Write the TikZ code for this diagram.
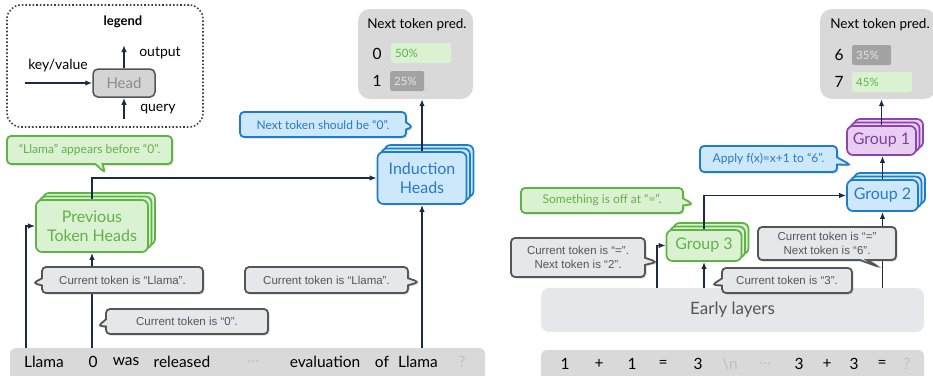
\documentclass[tikz,border=0pt]{standalone}
\usepackage{fontspec}
\setmainfont{Lato}
\newfontfamily\notefont{Liberation Sans}
\usetikzlibrary{shapes.callouts,shadows,arrows.meta}

\definecolor{flowc}{HTML}{1B2A47}
\definecolor{grnfill}{HTML}{DBF2D2}
\definecolor{grnline}{HTML}{5DB344}
\definecolor{grntext}{HTML}{62B04A}
\definecolor{blufill}{HTML}{CDE8FB}
\definecolor{bluline}{HTML}{1E7DCB}
\definecolor{blutext}{HTML}{2A79C2}
\definecolor{purfill}{HTML}{E8CFF2}
\definecolor{purline}{HTML}{8E44AD}
\definecolor{purtext}{HTML}{7E3F9E}
\definecolor{gryfill}{HTML}{E4E8EA}
\definecolor{gryline}{HTML}{555555}
\definecolor{grytext}{HTML}{555555}
\definecolor{predfill}{HTML}{D9D9D9}
\definecolor{barfill}{HTML}{A3A3A3}

\tikzset{
  flow/.style={-{Latex[length=7pt,width=5.5pt]}, draw=flowc, line width=1.7pt},
  headbox/.style={rectangle, rounded corners=6pt, line width=1.7pt, align=center,
    font=\fontsize{16}{19}\selectfont,
    double copy shadow={shadow xshift=3.5pt, shadow yshift=3.5pt}},
  greenhead/.style={headbox, fill=grnfill, draw=grnline, text=grntext},
  bluehead/.style={headbox, fill=blufill, draw=bluline, text=blutext},
  purplehead/.style={headbox, fill=purfill, draw=purline, text=purtext},
  tip/.style={rectangle callout, rounded corners=4pt, line width=1.8pt, inner sep=0pt,
    align=center, drop shadow={shadow xshift=1.5pt, shadow yshift=-1.5pt, opacity=0.3}},
  greytip/.style={tip, fill=gryfill, draw=gryline, text=grytext,
    font=\notefont\fontsize{11.5}{14}\selectfont},
  greentip/.style={tip, fill=grnfill, draw=grnline, text=grntext,
    font=\fontsize{12}{14}\selectfont},
  bluetip/.style={tip, fill=blufill, draw=bluline, text=blutext,
    font=\fontsize{12}{14}\selectfont},
  tokbar/.style={fill=predfill, rounded corners=6pt},
  tok/.style={font=\fontsize{15.5}{18}\selectfont, inner sep=0pt},
  faint/.style={tok, text=black!25},
  predbox/.style={fill=predfill, rounded corners=12pt},
  predtitle/.style={font=\fontsize{13.5}{16}\selectfont, inner sep=0pt},
  predtok/.style={font=\fontsize{15.5}{18}\selectfont, inner sep=0pt},
  goodbar/.style={fill=grnfill, text=grntext, anchor=west, inner xsep=4pt,
    minimum height=20pt, rounded corners=2pt, font=\fontsize{11.5}{14}\selectfont},
  badbar/.style={goodbar, fill=barfill, text=black!10},
  legendbox/.style={draw=black!75, dotted, line width=1.6pt, rounded corners=14pt},
  legendtext/.style={font=\fontsize{14}{17}\selectfont, inner sep=0pt},
  smallhead/.style={rectangle, rounded corners=5pt, line width=1.5pt, draw=gryline,
    fill=black!17, text=black!45, font=\fontsize{15}{18}\selectfont},
  earlybox/.style={fill=gryfill, rounded corners=8pt, text=grytext,
    font=\fontsize{17}{20}\selectfont}
}

\begin{document}
\begin{tikzpicture}[x=1pt, y=-1pt]
    \useasboundingbox (0,0) rectangle (933,375);

    % Legend
    \node[legendbox, minimum width=196pt, minimum height=122pt] (legend) at (105,66) {};
    \node[legendtext, font=\bfseries\fontsize{13}{16}\selectfont] (legendT) at (123,22) {legend};
    \node[smallhead, minimum width=62pt, minimum height=28pt] (head) at (124,83) {Head};
    \node[legendtext] (kvlab) at (58,66) {key/value};
    \node[legendtext] (outlab) at (160,53) {output};
    \node[legendtext] (qlab) at (158,109) {query};
    \coordinate (kvin) at (25,83);
    \coordinate (outend) at (124,45);
    \coordinate (qin) at (124,119);
    \draw[flow] (kvin) -- (head.west);
    \draw[flow] (head.north) -- (outend);
    \draw[flow] (qin) -- (head.south);

    % Left: tokens
    \node[tokbar, minimum width=475pt, minimum height=36pt] (barL) at (247.5,366) {};
    \node[tok] (tL1) at (44,362) {Llama};
    \node[tok] (tL2) at (93,362) {0};
    \node[tok] (tL3) at (126,362) {was};
    \node[tok] (tL4) at (182,362) {released};
    \node[faint] (tL5) at (253,362) {...};
    \node[tok] (tL6) at (325,362) {evaluation};
    \node[tok] (tL7) at (382,362) {of};
    \node[tok] (tL8) at (418,362) {Llama};
    \node[faint] (tL9) at (462,362) {?};

    % Left: heads and prediction
    \node[greenhead, minimum width=112pt, minimum height=52pt] (prev) at (92,226) {Previous\\Token Heads};
    \node[bluehead, minimum width=89pt, minimum height=52pt] (ind) at (422,178) {Induction\\Heads};
    \node[predbox, minimum width=115pt, minimum height=90pt] (predL) at (415.5,54) {};
    \node[predtitle] (predLt) at (417,25) {Next token pred.};
    \node[predtok] (pL0) at (377,54) {0};
    \node[goodbar, text width=52pt] (pL0b) at (391,53) {50\%};
    \node[predtok] (pL1) at (377,81) {1};
    \node[badbar, text width=26pt] (pL1b) at (390,81) {25\%};

    % Left: edges
    \coordinate (inL) at (26,348);
    \draw[flow] (inL) |- (prev.west);
    \draw[flow] (prev.south |- barL.north) -- (prev.south);
    \draw[flow] (prev.north) |- (ind.west);
    \draw[flow] (ind.south |- barL.north) -- (ind.south);
    \draw[flow] (ind.north) -- (predL.south -| ind.north);

    % Left: notes
    \coordinate (tipA) at (105,173);
    \coordinate (tipB) at (413,127);
    \coordinate (tipC) at (33,283);
    \coordinate (tipD) at (419,282);
    \coordinate (tipE) at (98,326);
    \node[greentip, minimum width=165pt, minimum height=28pt, callout absolute pointer={(tipA)}] (noteA) at (89.5,150) {“Llama” appears before “0”.};
    \node[bluetip, minimum width=166pt, minimum height=25pt, callout absolute pointer={(tipB)}] (noteB) at (323,124.5) {Next token should be “0”.};
    \node[greytip, minimum width=161pt, minimum height=26pt, callout absolute pointer={(tipC)}] (noteC) at (122.5,280) {Current token is “Llama”.};
    \node[greytip, minimum width=163pt, minimum height=26pt, callout absolute pointer={(tipD)}] (noteD) at (326.5,280) {Current token is “Llama”.};
    \node[greytip, minimum width=162pt, minimum height=25pt, callout absolute pointer={(tipE)}] (noteE) at (187,321.5) {Current token is “0”.};

    % Right: tokens
    \node[tokbar, minimum width=383pt, minimum height=36pt] (barR) at (732.5,368) {};
    \node[tok] (tR1) at (565,364) {1};
    \node[tok] (tR2) at (599,364) {+};
    \node[tok] (tR3) at (632,364) {1};
    \node[tok] (tR4) at (663,364) {=};
    \node[tok] (tR5) at (698,364) {3};
    \node[faint] (tR6) at (730,364) {\textbackslash n};
    \node[faint] (tR7) at (765,364) {...};
    \node[tok] (tR8) at (799,364) {3};
    \node[tok] (tR9) at (827,364) {+};
    \node[tok] (tR10) at (854,364) {3};
    \node[tok] (tR11) at (882,364) {=};
    \node[faint] (tR12) at (907,364) {?};

    % Right: groups and prediction
    \node[earlybox, minimum width=383pt, minimum height=44pt] (early) at (732.5,310) {Early layers};
    \node[greenhead, minimum width=75pt, minimum height=31pt] (g3) at (704,245.5) {Group 3};
    \node[bluehead, minimum width=71pt, minimum height=31pt] (g2) at (882.5,195.5) {Group 2};
    \node[purplehead, minimum width=69pt, minimum height=29pt] (g1) at (881.5,140.5) {Group 1};
    \node[predbox, minimum width=116pt, minimum height=90pt] (predR) at (878,54) {};
    \node[predtitle] (predRt) at (880,25) {Next token pred.};
    \node[predtok] (pR6) at (839,55) {6};
    \node[badbar, text width=31pt] (pR6b) at (852,55) {35\%};
    \node[predtok] (pR7) at (839,82) {7};
    \node[goodbar, text width=52pt] (pR7b) at (852,82) {45\%};

    % Right: edges
    \coordinate (inR) at (657,288);
    \draw[flow] (inR) |- (g3.west);
    \draw[flow] (g3.south |- early.north) -- (g3.south);
    \draw[flow] (g3.north) |- (g2.west);
    \draw[flow] (g2.south |- early.north) -- (g2.south);
    \draw[flow] (g2.north) -- (g1.south -| g2.north);
    \draw[flow] (g1.north) -- (predR.south -| g1.north);

    % Right: notes
    \coordinate (tipF) at (693,204);
    \coordinate (tipG) at (851,165);
    \coordinate (tipH) at (657,262);
    \coordinate (tipI) at (879,267);
    \coordinate (tipJ) at (712,285);
    \node[greentip, minimum width=162pt, minimum height=25pt, callout absolute pointer={(tipF)}] (noteF) at (602,200.5) {Something is off at “=”.};
    \node[bluetip, minimum width=137pt, minimum height=26pt, callout absolute pointer={(tipG)}] (noteG) at (768.5,159) {Apply f(x)=x+1 to “6”.};
    \node[greytip, minimum width=134pt, minimum height=39pt, callout absolute pointer={(tipH)}] (noteH) at (578,257.5) {Current token is “=”.\\Next token is “2”.};
    \node[greytip, minimum width=138pt, minimum height=33pt, callout absolute pointer={(tipI)}] (noteI) at (827,243.5) {Current token is “=”\\Next token is “6”.};
    \node[greytip, minimum width=130pt, minimum height=25pt, callout absolute pointer={(tipJ)}] (noteJ) at (787,280.5) {Current token is “3”.};
\end{tikzpicture}
\end{document}
